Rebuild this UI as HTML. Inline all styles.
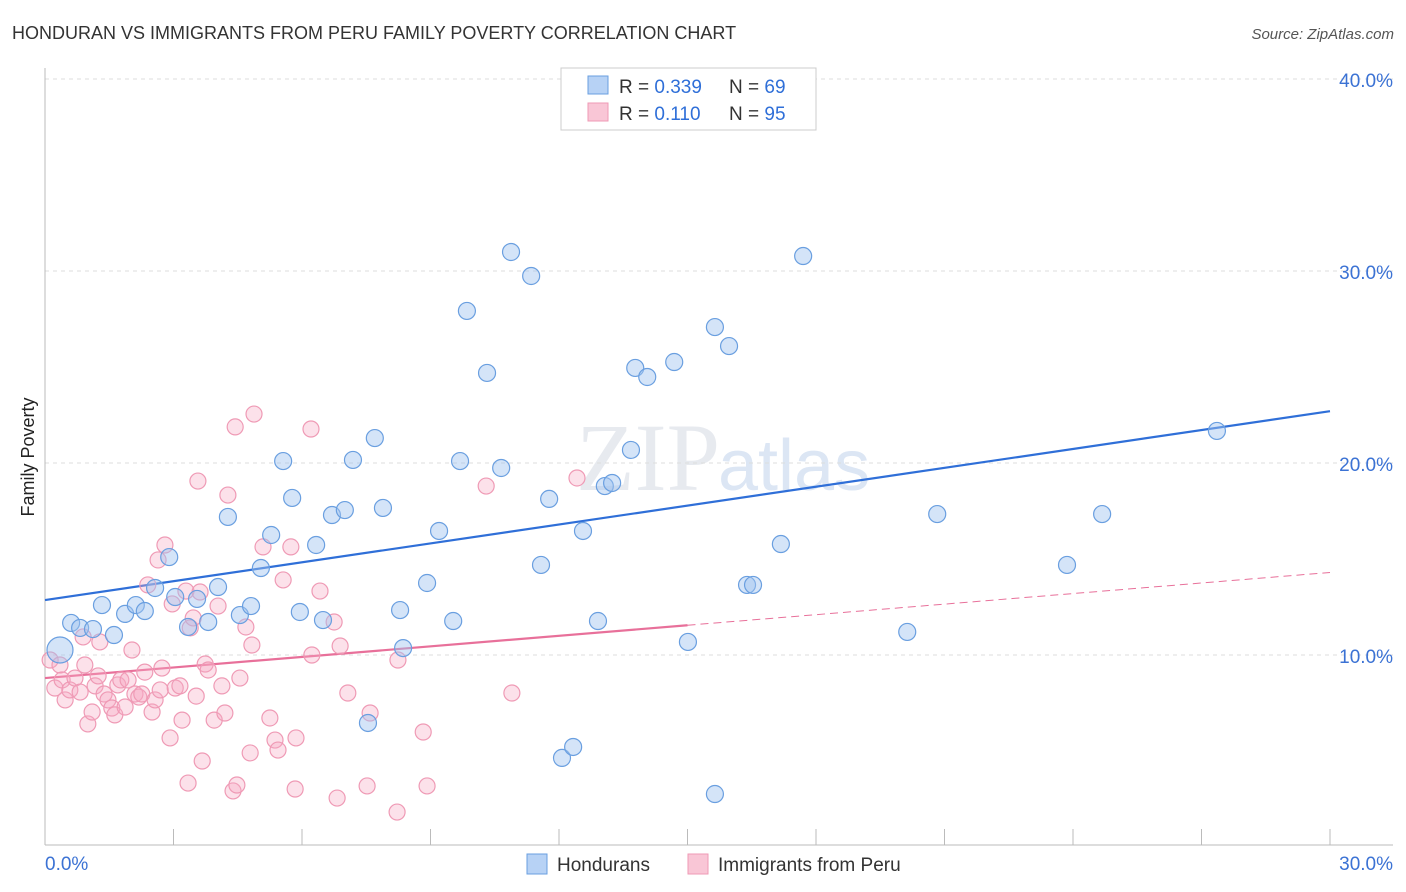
<!DOCTYPE html>
<html><head><meta charset="utf-8"><style>
body{margin:0;background:#fff;font-family:"Liberation Sans",sans-serif;}
svg{display:block}
</style></head><body>
<svg id="chart" width="1406" height="892">
<text x="12" y="39" font-size="18" fill="#333">HONDURAN VS IMMIGRANTS FROM PERU FAMILY POVERTY CORRELATION CHART</text>
<text x="1394" y="39" font-size="15" fill="#555" font-style="italic" text-anchor="end">Source: ZipAtlas.com</text>
<text transform="translate(34,457) rotate(-90)" font-size="18" fill="#222" text-anchor="middle">Family Poverty</text>
<text x="720" y="490" font-size="96" fill="#d8dde6" font-family="Liberation Serif,serif" text-anchor="end" opacity="0.6">ZIP</text>
<text x="718" y="490" font-size="72" fill="#c5d6ee" opacity="0.6">atlas</text>
<g id="grid"></g><g id="ticks"></g><g id="trends"></g><g id="pinkPts"></g><g id="bluePts"></g>
<g>
<rect x="561" y="68" width="255" height="62" fill="#fff" stroke="#ccc"/>
<rect x="588" y="76" width="20" height="18" fill="#b7d2f5" stroke="#6a9fe0"/>
<rect x="588" y="103" width="20" height="18" fill="#f9c6d6" stroke="#ef9ab5"/>
<text x="619" y="93" font-size="19" fill="#333">R = <tspan fill="#2f6fd8">0.339</tspan></text>
<text x="729" y="93" font-size="19" fill="#333">N = <tspan fill="#2f6fd8">69</tspan></text>
<text x="619" y="120" font-size="19" fill="#333">R = <tspan fill="#2f6fd8"> 0.110</tspan></text>
<text x="729" y="120" font-size="19" fill="#333">N = <tspan fill="#2f6fd8">95</tspan></text>
</g>
<g>
<rect x="527" y="854" width="20" height="20" fill="#b7d2f5" stroke="#6a9fe0"/>
<text x="557" y="871" font-size="19" fill="#333">Hondurans</text>
<rect x="688" y="854" width="20" height="20" fill="#f9c6d6" stroke="#ef9ab5"/>
<text x="718" y="871" font-size="19" fill="#333">Immigrants from Peru</text>
</g>
</svg>
<script>
const yTicks=[10,20,30,40];
const xTickLabels=["0.0%","30.0%"];
const blueX=[.35,.61,.82,1.12,1.33,1.61,1.87,2.12,2.33,2.57,2.9,3.04,3.34,3.55,3.81,4.04,4.27,4.55,4.81,5.04,5.28,5.56,5.77,5.95,6.33,6.49,6.7,7.0,7.19,7.54,7.7,7.89,8.29,8.36,8.92,9.2,9.53,9.69,9.85,10.32,10.65,10.88,11.35,11.58,11.77,12.07,12.33,12.56,12.91,13.07,13.24,13.68,13.78,14.06,14.69,15.01,15.64,15.64,15.97,16.39,16.53,17.18,17.7,20.13,20.83,23.86,24.68,27.36];
const blueY=[10.26,11.67,11.41,11.35,12.6,11.04,12.14,12.6,12.29,13.49,15.1,13.02,11.46,12.92,11.72,13.54,17.19,12.08,12.55,14.53,16.25,20.1,18.18,12.24,15.73,11.82,17.29,17.55,20.16,6.46,21.3,17.66,12.34,10.36,13.75,16.46,11.77,20.1,27.92,24.69,19.74,30.99,29.74,14.69,18.13,4.64,5.21,16.46,11.77,18.8,18.96,20.68,24.95,24.48,25.26,10.68,27.08,2.76,26.09,13.65,13.65,15.78,30.78,11.2,17.34,14.69,17.34,21.67];
const pinkX=[.12,.23,.35,.4,.47,.58,.7,.82,.89,.93,1.0,1.1,1.17,1.24,1.28,1.38,1.47,1.56,1.63,1.7,1.77,1.87,1.94,2.03,2.1,2.19,2.26,2.33,2.4,2.5,2.57,2.64,2.69,2.73,2.8,2.92,2.97,3.04,3.15,3.2,3.29,3.34,3.39,3.46,3.53,3.57,3.62,3.67,3.74,3.81,3.95,4.04,4.13,4.2,4.27,4.39,4.44,4.48,4.55,4.69,4.79,4.83,4.88,5.09,5.25,5.37,5.44,5.56,5.74,5.84,5.86,6.21,6.23,6.42,6.75,6.82,6.89,7.07,7.52,7.59,8.22,8.24,8.83,8.92,10.3,10.9,12.42];
const pinkY=[9.74,8.28,9.48,8.7,7.66,8.18,8.8,8.07,10.94,9.48,6.41,7.03,8.39,8.91,10.68,7.97,7.66,7.24,6.88,8.44,8.7,7.29,8.7,10.26,7.97,7.81,7.97,9.11,13.65,7.03,7.66,14.95,8.18,9.32,15.73,5.68,12.66,8.28,8.39,6.61,13.33,3.33,11.41,11.93,7.86,19.06,13.28,4.48,9.53,9.22,6.61,12.55,8.39,6.98,18.33,2.92,21.88,3.23,8.8,11.46,4.9,10.52,22.55,15.63,6.72,5.57,5.05,13.91,15.63,3.02,5.68,21.77,10.0,13.33,11.72,2.55,10.47,8.02,3.18,6.98,1.82,9.74,5.99,3.18,18.8,8.02,19.22];
const blueTrend=[12.86,22.7];
const pinkTrend=[8.8,14.3];
const pinkSolidEnd=15;
const NS="http://www.w3.org/2000/svg";
const X0=45,X1=1330,Y0=847,PPY=19.2;
function sx(v){return X0+(X1-X0)*v/30;}
function sy(v){return Y0-v*PPY;}
function mk(tag,attrs,parent){const e=document.createElementNS(NS,tag);for(const k in attrs)e.setAttribute(k,attrs[k]);document.getElementById(parent).appendChild(e);return e;}
yTicks.forEach(t=>{
 const l=mk('line',{x1:45,x2:1393,y1:sy(t),y2:sy(t),stroke:'#ddd','stroke-dasharray':'4,4'},'grid');
 
 
 const tx=mk('text',{x:1393,y:sy(t)+8,'font-size':19,fill:'#3b72d4','text-anchor':'end'},'grid');
 tx.textContent=t.toFixed(1)+'%';
 
 
});
const ax=mk('line',{x1:45,x2:1393,y1:845,y2:845,stroke:'#bbb'},'ticks');


const ay=mk('line',{x1:45,x2:45,y1:68,y2:845,stroke:'#bbb'},'ticks');


for(let i=0;i<=10;i++){
 const t=mk('line',{x1:sx(i*3),x2:sx(i*3),y1:829,y2:845,stroke:'#bbb'},'ticks');
 
 
}
[[0,'start',45],[30,'end',1393]].forEach((d,i)=>{
 const t=mk('text',{x:d[2],y:870,'font-size':19,fill:'#3b72d4','text-anchor':d[1]},'ticks');
 t.textContent=xTickLabels[i];
 
 
});
const pt=(a,b,x)=>a+(b-a)*x/30;
const bl=mk('line',{x1:sx(0),y1:sy(blueTrend[0]),x2:sx(30),y2:sy(blueTrend[1]),stroke:'#2f6fd8','stroke-width':2.2},'trends');


const pl=mk('line',{x1:sx(0),y1:sy(pinkTrend[0]),x2:sx(pinkSolidEnd),y2:sy(pt(pinkTrend[0],pinkTrend[1],pinkSolidEnd)),stroke:'#e8709a','stroke-width':2.2},'trends');


const pd=mk('line',{x1:sx(pinkSolidEnd),y1:sy(pt(pinkTrend[0],pinkTrend[1],pinkSolidEnd)),x2:sx(30),y2:sy(pinkTrend[1]),stroke:'#e8709a','stroke-width':1,'stroke-dasharray':'8,5'},'trends');


pinkX.forEach((v,i)=>{
 const c=mk('circle',{cx:sx(v),cy:sy(pinkY[i]),r:8,fill:'rgba(245,170,195,0.35)',stroke:'#ef9ab5','stroke-width':1.2},'pinkPts');
 
 
});
blueX.forEach((v,i)=>{
 const c=mk('circle',{cx:sx(v),cy:sy(blueY[i]),r:i===0?13:8.5,fill:'rgba(160,196,240,0.45)',stroke:'#6a9fe0','stroke-width':1.2},'bluePts');
 
 
});
</script>
</body></html>
